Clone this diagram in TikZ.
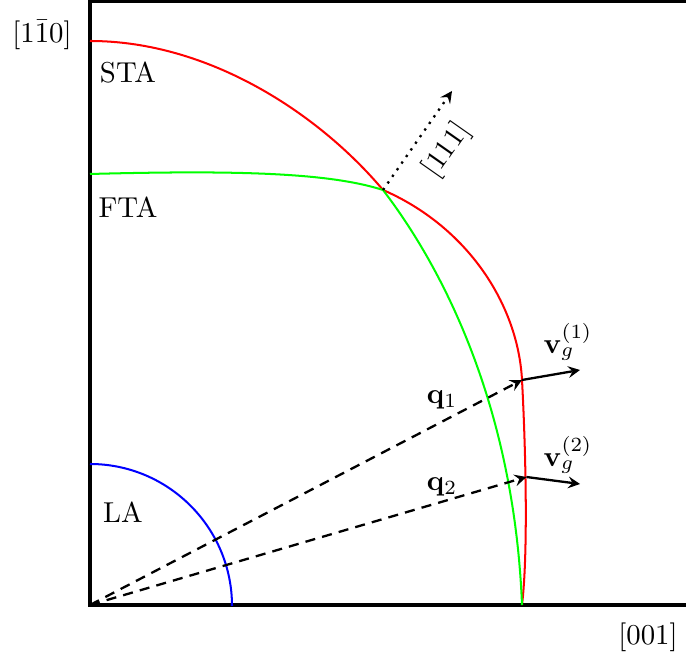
\documentclass[tikz,border=0pt]{standalone}
\usepackage{amsmath}
\begin{document}
\begin{tikzpicture}[x=0.0122cm, y=0.0122cm, >=stealth,
  branch/.style={line width=0.7pt},
  lbl/.style={inner sep=1pt}]
  \useasboundingbox (-90,-58) rectangle (596,605);
  \def\xE{432} \def\yA{225} \def\yB{128}
  \coordinate (O) at (0,0);
  \coordinate (E) at (\xE,0);
  \coordinate (P1) at (\xE,\yA);
  \coordinate (P2) at (436.4,\yB);
  \coordinate (X) at (293,415);
  \coordinate (D) at (362,514);
  \coordinate (V1) at (490,235);
  \coordinate (V2) at (490,121);
  % frame
  \draw[line width=1.1pt] (596,604) -- (0,604) -- (O) -- (596,0);
  % branches
  \draw[branch, blue] (0,141) arc (90:0:142);
  \draw[branch, red] (0,564) .. controls (120,564) and (230,490) .. (X)
    .. controls (378,378) and (428,300) .. (P1)
    .. controls (436,150) and (438,50) .. (E);
  \draw[branch, green] (0,431) .. controls (150,435) and (240,432) .. (X)
    .. controls (352,338) and (424,200) .. (E);
  % wave vectors and group velocities
  \draw[->, dash pattern=on 3.5pt off 2.5pt, thick] (O) -- (P1);
  \draw[->, dash pattern=on 3.5pt off 2.5pt, thick] (O) -- (P2);
  \draw[->, thick] (P1) -- (V1);
  \draw[->, thick] (P2) -- (V2);
  \draw[->, dotted, thick] (X) -- (D);
  \node[lbl, rotate=55] (n111) at (357,455) {[111]};
  \node[lbl] (q1) at (352,205) {$\mathbf{q}_1$};
  \node[lbl] (q2) at (352,118) {$\mathbf{q}_2$};
  \node[lbl] (vg1) at (478,263) {$\mathbf{v}_g^{(1)}$};
  \node[lbl] (vg2) at (478,150) {$\mathbf{v}_g^{(2)}$};
  \node[lbl] (sta) at (38,532) {STA};
  \node[lbl] (fta) at (38,398) {FTA};
  \node[lbl] (la) at (33,93) {LA};
  \node[lbl] (y110) at (-48,570) {$[1\bar{1}0]$};
  \node[lbl] (x001) at (558,-32) {[001]};
\end{tikzpicture}
\end{document}
